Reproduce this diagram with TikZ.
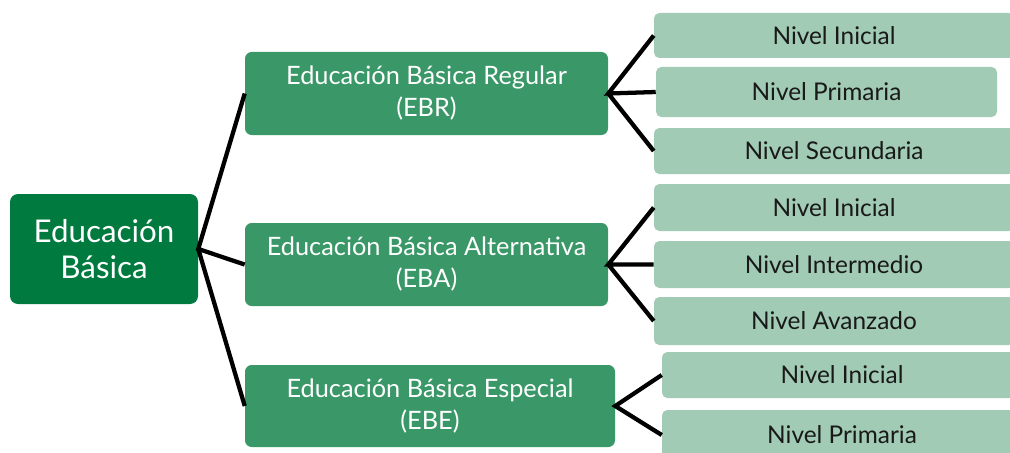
\documentclass[tikz,border=0pt]{standalone}
\usepackage{fontspec}
\setmainfont{Lato}
\definecolor{verdeosc}{RGB}{0,122,62}
\definecolor{verdemed}{RGB}{58,152,104}
\definecolor{verdecla}{RGB}{161,203,180}
\tikzset{
  raiz/.style={fill=verdeosc, rounded corners=6pt, text=white, align=center, inner sep=0pt, font=\fontsize{23.5}{26.5}\selectfont},
  tipo/.style={fill=verdemed, rounded corners=5pt, text=white, align=center, inner sep=0pt, font=\fontsize{19}{24}\selectfont},
  nivel/.style={fill=verdecla, rounded corners=4pt, text=black!90, inner sep=0pt, font=\fontsize{18.3}{20}\selectfont},
  rama/.style={line width=3.2pt, black}
}
\begin{document}
\begin{tikzpicture}[x=0.75pt, y=-0.75pt]
\useasboundingbox (0,0) rectangle (1010,453);
\clip (0,0) rectangle (1010,453);

\node [raiz, minimum width=141pt, minimum height=82.5pt] (raiz) at (104,249) {Educación\\Básica};

\node [tipo, minimum width=272.25pt, minimum height=62.25pt] (ebr) at (426.5,93.5) {Educación Básica Regular\\(EBR)};
\node [tipo, minimum width=272.25pt, minimum height=62.25pt] (eba) at (426.5,264.5) {Educación Básica Alternativa\\(EBA)};
\node [tipo, minimum width=277.5pt, minimum height=61.5pt] (ebe) at (430,406) {Educación Básica Especial\\(EBE)};

\node [nivel, minimum width=270pt, minimum height=33.75pt] (ebr1) at (834,35.5) {Nivel Inicial};
\node [nivel, minimum width=255.75pt, minimum height=37.5pt] (ebr2) at (826.5,92) {Nivel Primaria};
\node [nivel, minimum width=270pt, minimum height=34.5pt] (ebr3) at (834,151) {Nivel Secundaria};

\node [nivel, minimum width=270pt, minimum height=35.25pt] (eba1) at (834,207.5) {Nivel Inicial};
\node [nivel, minimum width=270pt, minimum height=35.25pt] (eba2) at (834,264.5) {Nivel Intermedio};
\node [nivel, minimum width=270pt, minimum height=36pt] (eba3) at (834,321) {Nivel Avanzado};

\node [nivel, minimum width=270pt, minimum height=34.5pt] (ebe1) at (842,375) {Nivel Inicial};
\node [nivel, minimum width=270pt, minimum height=37.5pt] (ebe2) at (842,435) {Nivel Primaria};

% ramas
\draw [rama] (ebr.west)--(raiz.east)--(eba.west) (raiz.east)--(ebe.west);
\draw [rama] (ebr1.west)--(ebr.east)--(ebr2.west) (ebr.east)--(ebr3.west);
\draw [rama] (eba1.west)--(eba.east)--(eba2.west) (eba.east)--(eba3.west);
\draw [rama] (ebe1.west)--(ebe.east)--(ebe2.west);
\end{tikzpicture}
\end{document}
